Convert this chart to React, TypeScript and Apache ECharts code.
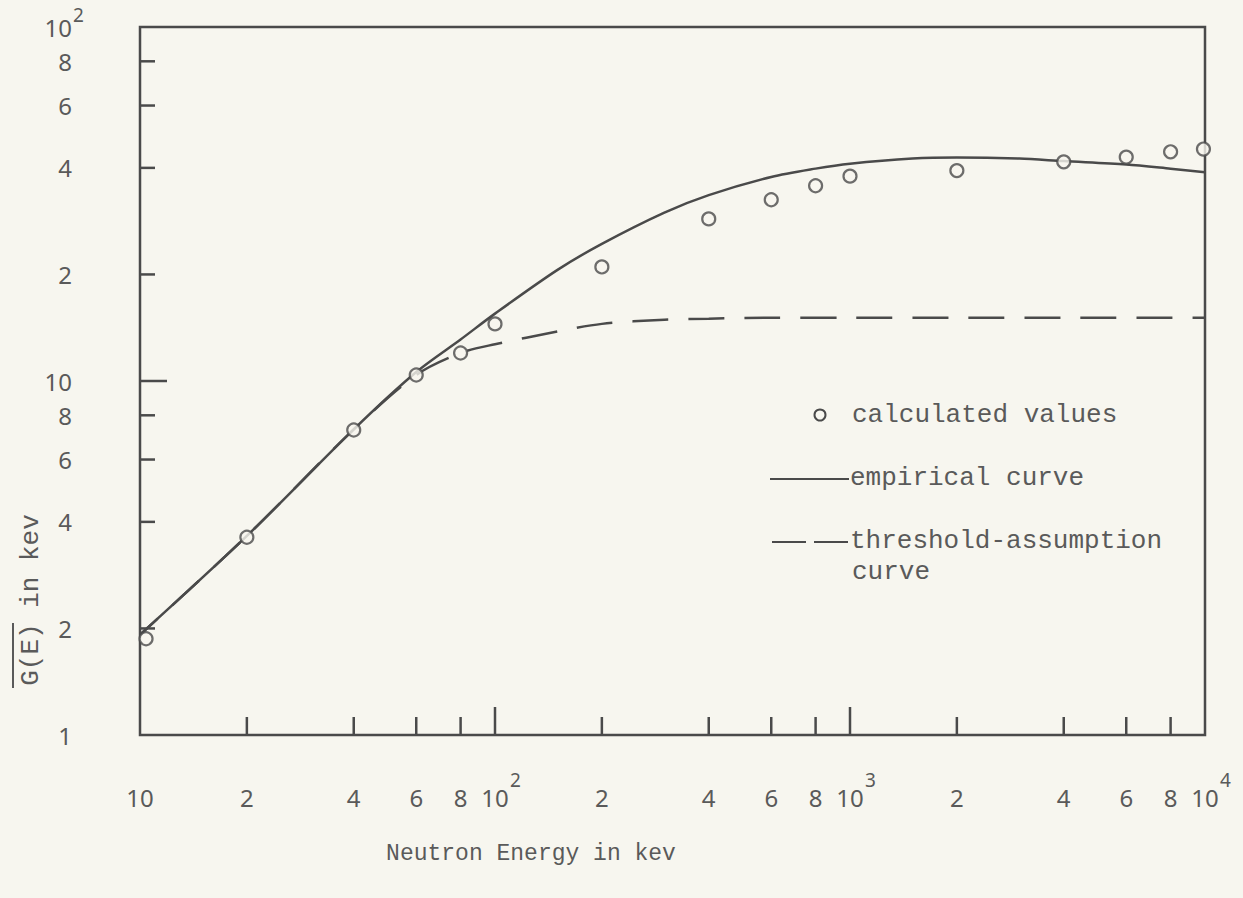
import React, { useEffect, useRef } from "react";
import * as echarts from "echarts";

// ---- data ----
const energy = [10, 20, 40, 60, 80, 100, 150, 200, 300, 400, 600, 800, 1000, 1500, 2000, 3000, 4000, 6000, 8000, 10000];
const empirical = [1.92, 3.65, 7.3, 10.6, 13.1, 15.5, 20.6, 24.4, 29.9, 33.5, 37.7, 39.8, 41.1, 42.5, 42.8, 42.5, 41.8, 40.9, 39.8, 38.9];

const energyT = [10, 20, 40, 60, 80, 100, 150, 200, 300, 400, 600, 1000, 2000, 4000, 10000];
const threshold = [1.92, 3.65, 7.3, 10.4, 12.0, 12.7, 13.8, 14.5, 14.9, 15.0, 15.1, 15.1, 15.1, 15.1, 15.1];

const calcE = [10.4, 20, 40, 60, 80, 100, 200, 400, 600, 800, 1000, 2000, 4000, 6000, 8000, 9900];
const calcG = [1.87, 3.62, 7.27, 10.4, 12.0, 14.5, 21.0, 28.7, 32.5, 35.6, 37.9, 39.3, 41.6, 42.9, 44.4, 45.2];

const xMinorTicks = [20, 40, 60, 80, 200, 400, 600, 800, 2000, 4000, 6000, 8000];
const xMajorTicks = [100, 1000];
const yMinorTicks = [2, 4, 6, 8, 20, 40, 60, 80];
const yMajorTicks = [10];

const xLabelValues = [10, 20, 40, 60, 80, 100, 200, 400, 600, 800, 1000, 2000, 4000, 6000, 8000, 10000];
const xLabelText = ["10", "2", "4", "6", "8", "10", "2", "4", "6", "8", "10", "2", "4", "6", "8", "10"];
const xLabelSup = ["", "", "", "", "", "2", "", "", "", "", "3", "", "", "", "", "4"];

const yLabelValues = [1, 2, 4, 6, 8, 10, 20, 40, 60, 80, 100];
const yLabelText = ["1", "2", "4", "6", "8", "10", "2", "4", "6", "8", "10"];
const yLabelSup = ["", "", "", "", "", "", "", "", "", "", "2"];

const legendItems = ["calculated values", "empirical curve", "threshold-assumption", "curve"];
const xTitle = "Neutron Energy in kev";
const yTitle = "G(E) in kev";

const PAPER = "#f7f6ef";
const INK = "#4a4a4a";
const TEXT = "#5a5a5a";
const MONO = "'Liberation Mono', 'DejaVu Sans Mono', monospace";
const SANS = "'Noto Sans', 'DejaVu Sans', sans-serif";

export default function App() {
  const ref = useRef<HTMLDivElement>(null);

  useEffect(() => {
    document.body.style.margin = "0";
    document.body.style.background = PAPER;
    const chart = echarts.init(ref.current!, undefined, { renderer: "svg" });

    const tickSeries = (vals: number[], axis: "x" | "y", len: number) => ({
      type: "custom",
      coordinateSystem: "cartesian2d",
      silent: true,
      clip: false,
      z: 5,
      data: vals.map((v) => (axis === "x" ? [v, 1] : [10, v])),
      renderItem: (params: any, api: any) => {
        const p = api.coord([api.value(0), api.value(1)]);
        const shape =
          axis === "x"
            ? { x1: p[0], y1: p[1], x2: p[0], y2: p[1] - len }
            : { x1: p[0], y1: p[1], x2: p[0] + len, y2: p[1] };
        return { type: "line", shape, style: { stroke: INK, lineWidth: 2.5 } };
      },
    });

    const option: any = {
      animation: false,
      backgroundColor: PAPER,
      grid: {
        left: 140,
        right: 38,
        top: 27,
        bottom: 163,
        show: true,
        borderColor: INK,
        borderWidth: 2.5,
        backgroundColor: "transparent",
      },
      xAxis: {
        type: "log",
        logBase: 10,
        min: 10,
        max: 10000,
        axisLine: { show: false },
        axisTick: { show: false },
        axisLabel: { show: false },
        splitLine: { show: false },
      },
      yAxis: {
        type: "log",
        logBase: 10,
        min: 1,
        max: 100,
        axisLine: { show: false },
        axisTick: { show: false },
        axisLabel: { show: false },
        splitLine: { show: false },
      },
      series: [
        {
          name: "empirical curve",
          type: "line",
          data: energy.map((e, i) => [e, empirical[i]]),
          smooth: 0.3,
          showSymbol: false,
          lineStyle: { color: INK, width: 2.5 },
          z: 2,
        },
        {
          name: "threshold-assumption curve",
          type: "line",
          data: energyT.map((e, i) => [e, threshold[i]]),
          smooth: 0.3,
          showSymbol: false,
          lineStyle: { color: INK, width: 2.5, type: [36, 20], dashOffset: 12 },
          z: 2,
        },
        {
          name: "calculated values",
          type: "scatter",
          data: calcE.map((e, i) => [e, calcG[i]]),
          symbol: "circle",
          symbolSize: 13,
          itemStyle: { color: PAPER, borderColor: INK, borderWidth: 2.2 },
          z: 4,
        },
        tickSeries(xMinorTicks, "x", 18),
        tickSeries(xMajorTicks, "x", 28),
        tickSeries(yMinorTicks, "y", 15),
        tickSeries(yMajorTicks, "y", 27),
        {
          type: "custom",
          coordinateSystem: "cartesian2d",
          silent: true,
          clip: false,
          data: xLabelValues.map((v, i) => [v, 1, i]),
          renderItem: (params: any, api: any) => {
            const i = api.value(2);
            const p = api.coord([api.value(0), api.value(1)]);
            const children: any[] = [
              {
                type: "text",
                x: p[0],
                y: p[1] + 62,
                style: { text: xLabelText[i], fill: TEXT, fontSize: 24, fontFamily: SANS, align: "center", verticalAlign: "middle" },
              },
            ];
            if (xLabelSup[i]) {
              children.push({
                type: "text",
                x: p[0] + 15,
                y: p[1] + 45,
                style: { text: xLabelSup[i], fill: TEXT, fontSize: 19, fontFamily: SANS, align: "left", verticalAlign: "middle" },
              });
            }
            return { type: "group", children };
          },
        },
        {
          type: "custom",
          coordinateSystem: "cartesian2d",
          silent: true,
          clip: false,
          data: yLabelValues.map((v, i) => [10, v, i]),
          renderItem: (params: any, api: any) => {
            const i = api.value(2);
            const p = api.coord([api.value(0), api.value(1)]);
            const children: any[] = [
              {
                type: "text",
                x: p[0] - 68,
                y: p[1],
                style: { text: yLabelText[i], fill: TEXT, fontSize: 24, fontFamily: SANS, align: "right", verticalAlign: "middle" },
              },
            ];
            if (yLabelSup[i]) {
              children.push({
                type: "text",
                x: p[0] - 67,
                y: p[1] - 12,
                style: { text: yLabelSup[i], fill: TEXT, fontSize: 19, fontFamily: SANS, align: "left", verticalAlign: "middle" },
              });
            }
            return { type: "group", children };
          },
        },
      ],
      graphic: [
        // legend
        { type: "circle", shape: { cx: 820, cy: 415, r: 5.5 }, style: { fill: PAPER, stroke: INK, lineWidth: 2 } },
        { type: "text", x: 852, y: 415, style: { text: legendItems[0], fill: TEXT, fontSize: 26, fontFamily: MONO, verticalAlign: "middle" } },
        { type: "line", shape: { x1: 770, y1: 479, x2: 849, y2: 479 }, style: { stroke: INK, lineWidth: 2.2 } },
        { type: "text", x: 850, y: 478, style: { text: legendItems[1], fill: TEXT, fontSize: 26, fontFamily: MONO, verticalAlign: "middle" } },
        { type: "line", shape: { x1: 772, y1: 542, x2: 849, y2: 542 }, style: { stroke: INK, lineWidth: 2.2, lineDash: [34, 8] } },
        { type: "text", x: 850, y: 541, style: { text: legendItems[2], fill: TEXT, fontSize: 26, fontFamily: MONO, verticalAlign: "middle" } },
        { type: "text", x: 852, y: 572, style: { text: legendItems[3], fill: TEXT, fontSize: 26, fontFamily: MONO, verticalAlign: "middle" } },
        // axis titles
        { type: "text", x: 531, y: 854, style: { text: xTitle, fill: TEXT, fontSize: 23, fontFamily: MONO, align: "center", verticalAlign: "middle" } },
        {
          type: "text",
          x: 31,
          y: 600,
          rotation: Math.PI / 2,
          style: { text: yTitle, fill: TEXT, fontSize: 26, fontFamily: MONO, align: "center", verticalAlign: "middle" },
        },
        { type: "line", shape: { x1: 13, y1: 623, x2: 13, y2: 688 }, style: { stroke: TEXT, lineWidth: 2 } },
      ],
    };

    chart.setOption(option);
    return () => chart.dispose();
  }, []);

  return <div ref={ref} style={{ width: 1243, height: 898, background: PAPER }} />;
}
